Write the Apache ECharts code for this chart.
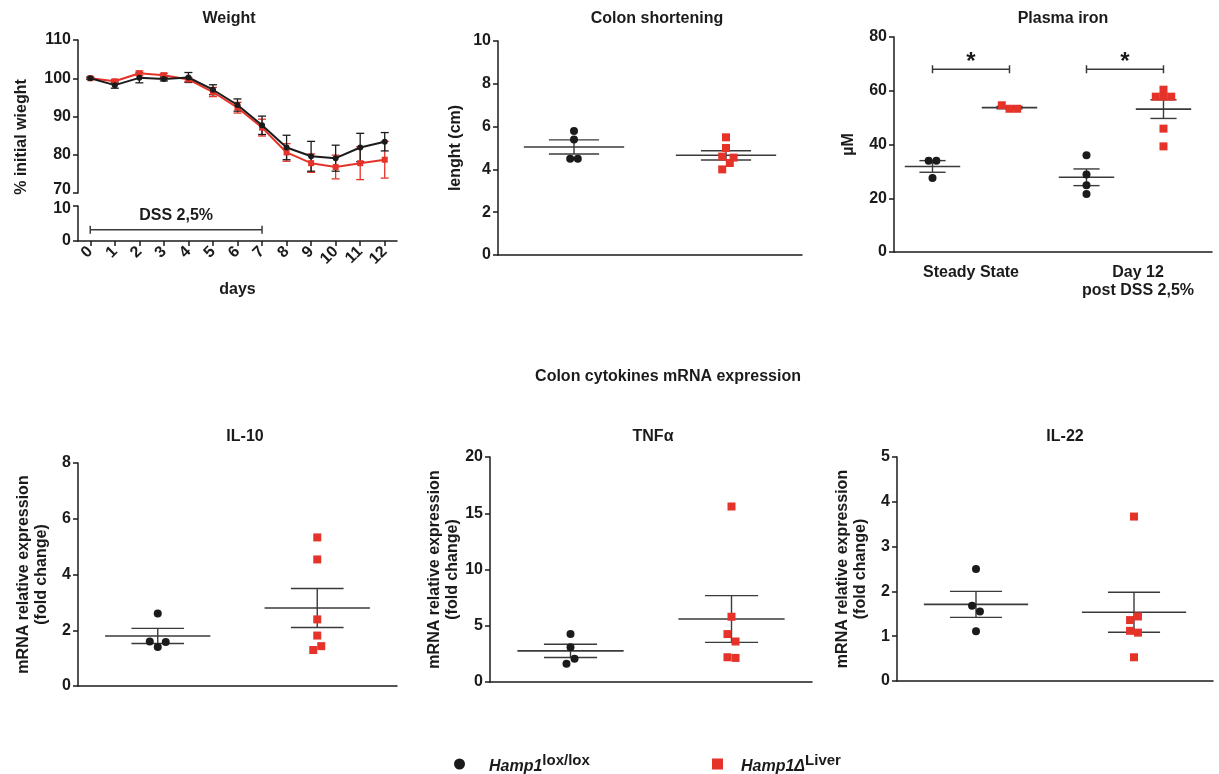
<!DOCTYPE html>
<html>
<head>
<meta charset="utf-8">
<title>Hamp1 DSS colitis</title>
<script src="https://cdn.jsdelivr.net/npm/echarts@6/dist/echarts.min.js"></script>
<style>
  html, body { margin: 0; padding: 0; background: #fff; }
  #main { width: 1219px; height: 774px; }
</style>
</head>
<body>
<div id="main"></div>
<script>
// ---- data ----
// weight curve, % of initial weight (mean and SEM per day)
var days = ['0', '1', '2', '3', '4', '5', '6', '7', '8', '9', '10', '11', '12'];
var weightLox = [100, 98.2, 100.1, 99.8, 100.2, 97, 93, 87.7, 81.9, 79.6, 79.1, 81.9, 83.4];
var weightLoxSem = [0.3, 0.8, 1.3, 0.5, 1.3, 1.3, 1.6, 2.4, 3.2, 3.9, 3.4, 3.7, 2.4];
var weightLiver = [100, 99.2, 101.3, 100.8, 99.7, 96.4, 92.3, 87.1, 80.6, 77.8, 76.8, 77.8, 78.7];
var weightLiverSem = [0.2, 0.5, 0.6, 0.5, 0.5, 1.2, 1.4, 2.2, 2.3, 2.4, 3.1, 4.3, 4.8];
var dssDays = [0, 7];
var dssLabel = 'DSS 2,5%';

// colon length (cm)
var colonLox = [5.8, 5.4, 4.5, 4.5];
var colonLoxSpread = [0, 0, -1, 1];
var colonLiver = [5.5, 5.0, 4.6, 4.55, 4.3, 4.0];
var colonLiverSpread = [0, 0, -1, 2, 1, -1];

// plasma iron (µM)
var ironLabels = ['Steady State', 'Day 12', 'post DSS 2,5%'];
var ironSteadyLox = [34, 34, 27.5];
var ironSteadyLoxSpread = [-1, 1, 0];
var ironSteadyLiver = [54.6, 53.3, 53.3];
var ironSteadyLiverSpread = [-2, 0, 2];
var ironDay12Lox = [36, 28.8, 24.8, 21.6];
var ironDay12LoxSpread = [0, 0, 0, 0];
var ironDay12Liver = [60.4, 57.8, 57.8, 57.8, 45.9, 39.3];
var ironDay12LiverSpread = [0, -2, 0, 2, 0, 0];
var ironSignif = ['*', '*'];
var ironBracketLevel = 68;

// cytokines mRNA (fold change)
var il10Lox = [2.6, 1.6, 1.58, 1.4];
var il10LoxSpread = [0, -2, 2, 0];
var il10Liver = [5.33, 4.54, 2.39, 1.81, 1.43, 1.29];
var il10LiverSpread = [0, 0, 0, 0, 1, -1];
var tnfLox = [4.26, 3.1, 2.07, 1.63];
var tnfLoxSpread = [0, 0, 1, -1];
var tnfLiver = [15.6, 5.8, 4.26, 3.6, 2.2, 2.14];
var tnfLiverSpread = [0, 0, -1, 1, -1, 1];
var il22Lox = [2.5, 1.68, 1.55, 1.11];
var il22LoxSpread = [0, -1, 1, 0];
var il22Liver = [3.67, 1.44, 1.36, 1.12, 1.08, 0.53];
var il22LiverSpread = [0, 1, -1, -1, 1, 0];

// ---- look ----
var FONT = '"Liberation Sans", Arial, sans-serif';
var INK = '#1b1b1b';
var BAR = '#3a3a3a';
var RED = '#e5332a';
var JIT = 0.05;

function stats(v) {
  var n = v.length;
  var m = v.reduce(function (a, b) { return a + b; }, 0) / n;
  var ss = v.reduce(function (a, b) { return a + (b - m) * (b - m); }, 0);
  return [m, Math.sqrt(ss / (n - 1)) / Math.sqrt(n)];
}

function seg(a, b, col, w) {
  return { type: 'line', shape: { x1: a[0], y1: a[1], x2: b[0], y2: b[1] }, style: { stroke: col, lineWidth: w } };
}

function dots(values, spread, center, g, kind) {
  return {
    type: 'scatter', name: kind, xAxisIndex: g, yAxisIndex: g, z: 5,
    symbol: kind === 'lox' ? 'circle' : 'rect', symbolSize: 8,
    itemStyle: { color: kind === 'lox' ? INK : RED, opacity: 1 },
    data: values.map(function (v, i) { return [center + spread[i] * JIT, v]; })
  };
}

// mean line + SEM whiskers
function meanSem(values, center, g, half, cap) {
  var st = stats(values);
  return {
    type: 'custom', xAxisIndex: g, yAxisIndex: g, silent: true, z: 3,
    data: [[center, st[0], st[1]]],
    renderItem: function (p, api) {
      var x = api.value(0), m = api.value(1), s = api.value(2);
      return {
        type: 'group', children: [
          seg(api.coord([x - half, m]), api.coord([x + half, m]), BAR, 1.6),
          seg(api.coord([x, m - s]), api.coord([x, m + s]), BAR, 1.4),
          seg(api.coord([x - cap, m + s]), api.coord([x + cap, m + s]), BAR, 1.4),
          seg(api.coord([x - cap, m - s]), api.coord([x + cap, m - s]), BAR, 1.4)
        ]
      };
    }
  };
}

// weight error bars
function errBars(vals, sem, color) {
  return {
    type: 'custom', xAxisIndex: 0, yAxisIndex: 0, silent: true, z: 2,
    data: vals.map(function (v, i) { return [i, v - sem[i], v + sem[i]]; }),
    renderItem: function (p, api) {
      var lo = api.coord([api.value(0), api.value(1)]);
      var hi = api.coord([api.value(0), api.value(2)]);
      return {
        type: 'group', children: [
          seg(lo, hi, color, 1.3),
          seg([lo[0] - 4, lo[1]], [lo[0] + 4, lo[1]], color, 1.3),
          seg([hi[0] - 4, hi[1]], [hi[0] + 4, hi[1]], color, 1.3)
        ]
      };
    }
  };
}

var tickLabel = { color: INK, fontFamily: FONT, fontWeight: 'bold', fontSize: 16, margin: 7 };
var axisLn = { show: true, lineStyle: { color: INK, width: 1.5 } };

function yAx(g, min, max, step, name, gap) {
  return {
    type: 'value', gridIndex: g, min: min, max: max, interval: step,
    name: name, nameLocation: 'middle', nameGap: gap,
    nameTextStyle: {
      color: INK, fontFamily: FONT, fontWeight: 'bold', fontSize: 16, lineHeight: 18,
      rich: {
        a: { color: INK, fontFamily: FONT, fontWeight: 'bold', fontSize: 16, lineHeight: 18 },
        b: { color: INK, fontFamily: FONT, fontSize: 16, lineHeight: 18 }
      }
    },
    axisLine: axisLn,
    axisTick: { show: true, length: 5, lineStyle: { color: INK, width: 1.5 } },
    axisLabel: tickLabel,
    splitLine: { show: false }
  };
}

function xDots(g, max) {
  return {
    type: 'value', gridIndex: g, min: 0, max: max,
    axisLine: axisLn, axisTick: { show: false }, axisLabel: { show: false }, splitLine: { show: false }
  };
}

var mrnaName = '{a|mRNA relative expression}\n{b|(fold change)}';

var xAxes = [
  { type: 'category', gridIndex: 0, data: days, show: false },
  {
    type: 'category', gridIndex: 1, data: days, name: 'days', nameLocation: 'middle', nameGap: 41,
    nameTextStyle: { color: INK, fontFamily: FONT, fontWeight: 'bold', fontSize: 16 },
    axisLine: axisLn,
    axisTick: { show: true, alignWithLabel: true, length: 5, lineStyle: { color: INK, width: 1.5 } },
    axisLabel: { color: INK, fontFamily: FONT, fontWeight: 'bold', fontSize: 16, rotate: 45, margin: 8, interval: 0 },
    splitLine: { show: false }
  },
  xDots(2, 4),
  {
    type: 'value', gridIndex: 3, min: 0, max: 4.13, interval: 1,
    axisLine: axisLn, axisTick: { show: false }, splitLine: { show: false },
    axisLabel: {
      show: true, margin: 12, showMaxLabel: false,
      formatter: function (v) {
        if (v === 1) return '{a|' + ironLabels[0] + '}';
        if (v === 3) return '{b|' + ironLabels[1] + '}\n{b|' + ironLabels[2] + '}';
        return '';
      },
      rich: {
        a: { color: INK, fontFamily: FONT, fontWeight: 'bold', fontSize: 16, lineHeight: 18 },
        b: { color: INK, fontFamily: FONT, fontWeight: 'bold', fontSize: 16, lineHeight: 18, padding: [0, 0, 0, 26] }
      }
    }
  },
  xDots(4, 4), xDots(5, 4), xDots(6, 4)
];

// broken weight axis: nudge "70" up and "10" down so they don't collide
var weightTop = yAx(0, 70, 110, 10, '', 0);
weightTop.axisLabel = Object.assign({}, tickLabel, {
  formatter: function (v) { return v === 70 ? '{u|70}' : String(v); },
  rich: { u: { color: INK, fontFamily: FONT, fontWeight: 'bold', fontSize: 16, padding: [0, 0, 6, 0] } }
});
var weightLow = yAx(1, 0, 10, 10, '', 0);
weightLow.axisLabel = Object.assign({}, tickLabel, {
  formatter: function (v) { return v === 10 ? '{d|10}' : String(v); },
  rich: { d: { color: INK, fontFamily: FONT, fontWeight: 'bold', fontSize: 16, padding: [6, 0, 0, 0] } }
});

var yAxes = [
  weightTop,
  weightLow,
  yAx(2, 0, 10, 2, 'lenght (cm)', 33),
  yAx(3, 0, 80, 20, 'µM', 36),
  yAx(4, 0, 8, 2, mrnaName, 27),
  yAx(5, 0, 20, 5, mrnaName, 28),
  yAx(6, 0, 5, 1, mrnaName, 27)
];

var series = [
  errBars(weightLiver, weightLiverSem, RED),
  { type: 'line', name: 'liver', xAxisIndex: 0, yAxisIndex: 0, data: weightLiver, symbol: 'rect', symbolSize: 6,
    itemStyle: { color: RED }, lineStyle: { color: RED, width: 2 }, z: 3 },
  errBars(weightLox, weightLoxSem, INK),
  { type: 'line', name: 'lox', xAxisIndex: 0, yAxisIndex: 0, data: weightLox, symbol: 'circle', symbolSize: 6,
    itemStyle: { color: INK }, lineStyle: { color: INK, width: 2 }, z: 4 },
  // DSS exposure bar
  {
    type: 'custom', xAxisIndex: 1, yAxisIndex: 1, silent: true,
    data: [[dssDays[0], dssDays[1], 3.2]],
    renderItem: function (p, api) {
      var a = api.coord([api.value(0), api.value(2)]);
      var b = api.coord([api.value(1), api.value(2)]);
      return {
        type: 'group', children: [
          seg(a, b, BAR, 1.5),
          seg([a[0], a[1] - 4], [a[0], a[1] + 4], BAR, 1.5),
          seg([b[0], b[1] - 4], [b[0], b[1] + 4], BAR, 1.5),
          { type: 'text', x: (a[0] + b[0]) / 2, y: a[1] - 14,
            style: { text: dssLabel, fill: INK, font: 'bold 16px ' + FONT, align: 'center', verticalAlign: 'middle', textAlign: 'center', textVerticalAlign: 'middle' } }
        ]
      };
    }
  },
  // colon
  meanSem(colonLox, 1, 2, 0.66, 0.33), dots(colonLox, colonLoxSpread, 1, 2, 'lox'),
  meanSem(colonLiver, 3, 2, 0.66, 0.33), dots(colonLiver, colonLiverSpread, 3, 2, 'liver'),
  // plasma iron
  meanSem(ironSteadyLox, 0.5, 3, 0.36, 0.17), dots(ironSteadyLox, ironSteadyLoxSpread, 0.5, 3, 'lox'),
  meanSem(ironSteadyLiver, 1.5, 3, 0.36, 0.17), dots(ironSteadyLiver, ironSteadyLiverSpread, 1.5, 3, 'liver'),
  meanSem(ironDay12Lox, 2.5, 3, 0.36, 0.17), dots(ironDay12Lox, ironDay12LoxSpread, 2.5, 3, 'lox'),
  meanSem(ironDay12Liver, 3.5, 3, 0.36, 0.17), dots(ironDay12Liver, ironDay12LiverSpread, 3.5, 3, 'liver'),
  {
    type: 'custom', xAxisIndex: 3, yAxisIndex: 3, silent: true,
    data: ironSignif.map(function (s, i) { return [i * 2 + 0.5, i * 2 + 1.5, ironBracketLevel]; }),
    renderItem: function (p, api) {
      var a = api.coord([api.value(0), api.value(2)]);
      var b = api.coord([api.value(1), api.value(2)]);
      return {
        type: 'group', children: [
          seg(a, b, BAR, 1.5),
          seg([a[0], a[1] - 4], [a[0], a[1] + 4], BAR, 1.5),
          seg([b[0], b[1] - 4], [b[0], b[1] + 4], BAR, 1.5),
          { type: 'text', x: (a[0] + b[0]) / 2, y: a[1] + 5,
            style: { text: ironSignif[p.dataIndex], fill: INK, font: 'bold 24px ' + FONT, align: 'center', verticalAlign: 'bottom', textAlign: 'center', textVerticalAlign: 'bottom' } }
        ]
      };
    }
  },
  // cytokines
  meanSem(il10Lox, 1, 4, 0.66, 0.33), dots(il10Lox, il10LoxSpread, 1, 4, 'lox'),
  meanSem(il10Liver, 3, 4, 0.66, 0.33), dots(il10Liver, il10LiverSpread, 3, 4, 'liver'),
  meanSem(tnfLox, 1, 5, 0.66, 0.33), dots(tnfLox, tnfLoxSpread, 1, 5, 'lox'),
  meanSem(tnfLiver, 3, 5, 0.66, 0.33), dots(tnfLiver, tnfLiverSpread, 3, 5, 'liver'),
  meanSem(il22Lox, 1, 6, 0.66, 0.33), dots(il22Lox, il22LoxSpread, 1, 6, 'lox'),
  meanSem(il22Liver, 3, 6, 0.66, 0.33), dots(il22Liver, il22LiverSpread, 3, 6, 'liver')
];

function heading(text, x, y, size) {
  return { type: 'text', x: x, y: y,
    style: { text: text, fill: INK, font: 'bold ' + (size || 16) + 'px ' + FONT,
      align: 'center', verticalAlign: 'top', textAlign: 'center', textVerticalAlign: 'top' } };
}

function legendRich(pad) {
  return {
    i: { color: INK, fontFamily: FONT, fontWeight: 'bold', fontStyle: 'italic', fontSize: 16, lineHeight: 22, verticalAlign: 'bottom', padding: [0, 0, 0, pad] },
    s: { color: INK, fontFamily: FONT, fontWeight: 'bold', fontSize: 15, lineHeight: 16, verticalAlign: 'top' }
  };
}

var chart = echarts.init(document.getElementById('main'));
chart.setOption({
  animation: false,
  backgroundColor: '#fff',
  grid: [
    { left: 78, top: 40, width: 319, height: 153 },
    { left: 78, top: 206, width: 319, height: 35 },
    { left: 498, top: 41, width: 304, height: 214 },
    { left: 894, top: 37, width: 318, height: 215 },
    { left: 78, top: 463, width: 319, height: 223 },
    { left: 490, top: 457, width: 322, height: 225 },
    { left: 897, top: 457, width: 316, height: 224 }
  ],
  xAxis: xAxes,
  yAxis: yAxes,
  series: series,
  legend: [
    { left: 449, top: 748, selectedMode: false, itemWidth: 11, itemHeight: 11,
      data: [{ name: 'lox', icon: 'circle' }],
      formatter: function () { return '{i|Hamp1}{s|lox/lox}'; },
      textStyle: { rich: legendRich(19) } },
    { left: 707, top: 748, selectedMode: false, itemWidth: 11, itemHeight: 11,
      data: [{ name: 'liver', icon: 'rect' }],
      formatter: function () { return '{i|Hamp1Δ}{s|Liver}'; },
      textStyle: { rich: legendRich(13) } }
  ],
  graphic: [
    heading('Weight', 229, 11),
    heading('Colon shortening', 657, 11),
    heading('Plasma iron', 1063, 11),
    heading('Colon cytokines mRNA expression', 668, 369),
    heading('IL-10', 245, 429),
    heading('TNFα', 653, 429),
    heading('IL-22', 1065, 429),
    { type: 'text', x: 22, y: 137, rotation: Math.PI / 2,
      style: { text: '% initial wieght', fill: INK, font: 'bold 16px ' + FONT,
        align: 'center', verticalAlign: 'middle', textAlign: 'center', textVerticalAlign: 'middle' } }
  ]
});
</script>
</body>
</html>
